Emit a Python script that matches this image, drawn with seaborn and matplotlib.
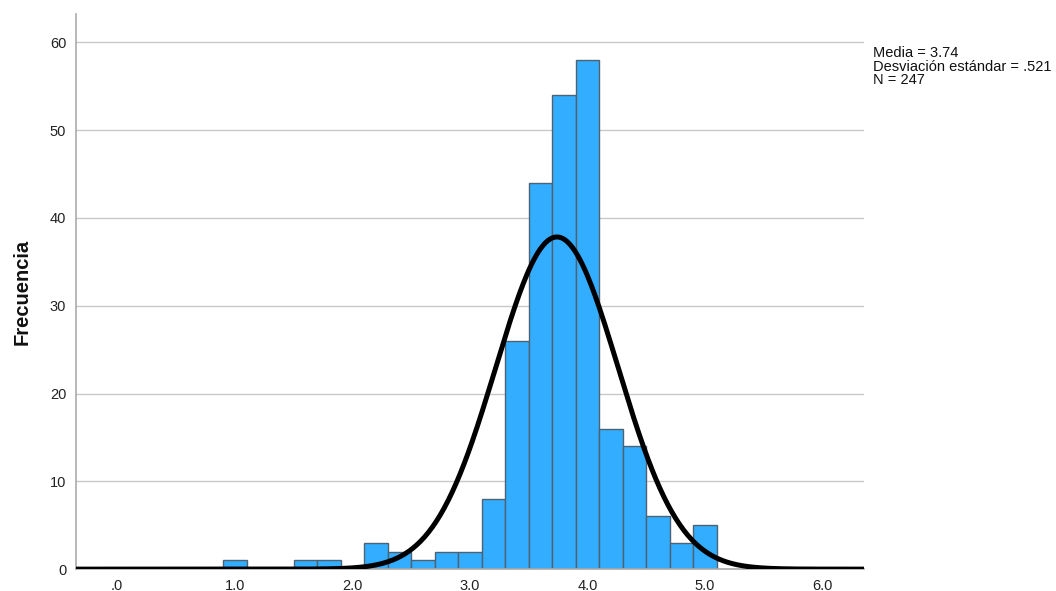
import numpy as np
import pandas as pd
import matplotlib
matplotlib.use("Agg")
import matplotlib.pyplot as plt
import seaborn as sns

# histogram data (bin centers, width 0.2)
bin_centers = [1.0, 1.2, 1.4, 1.6, 1.8, 2.0, 2.2, 2.4, 2.6, 2.8, 3.0,
               3.2, 3.4, 3.6, 3.8, 4.0, 4.2, 4.4, 4.6, 4.8, 5.0]
counts = [1, 0, 0, 1, 1, 0, 3, 2, 1, 2, 2,
          8, 26, 44, 54, 58, 16, 14, 6, 3, 5]
bin_width = 0.2
mean_val = 3.74
std_val = 0.521
n_total = 247
x_ticks = [0, 1, 2, 3, 4, 5, 6]
x_tick_labels = [".0", "1.0", "2.0", "3.0", "4.0", "5.0", "6.0"]
y_ticks = [0, 10, 20, 30, 40, 50, 60]

sns.set_theme(style="white")
plt.rcParams['font.family'] = ['Liberation Sans', 'DejaVu Sans']

fig = plt.figure(figsize=(10.56, 5.91), dpi=100)
ax = fig.add_axes([0.072, 0.037, 0.746, 0.939])

df = pd.DataFrame({"valor": bin_centers, "n": counts})
lo = bin_centers[0] - bin_width / 2
hi = bin_centers[-1] + bin_width / 2
sns.histplot(data=df, x="valor", weights="n", binwidth=bin_width,
             binrange=(lo, hi), ax=ax,
             color="#33adff", edgecolor="#4d6272", linewidth=1.0, alpha=1,
             zorder=2)

# normal curve scaled to counts
xlim = (-0.35, 6.35)
xs = np.linspace(xlim[0], xlim[1], 600)
ys = n_total * bin_width * np.exp(-0.5 * ((xs - mean_val) / std_val) ** 2) / (std_val * np.sqrt(2 * np.pi))
sns.lineplot(x=xs, y=ys, ax=ax, color="black", linewidth=3.6, zorder=3)

ax.set_xlim(*xlim)
ax.set_ylim(0, 63.2)
ax.set_xticks(x_ticks)
ax.set_xticklabels(x_tick_labels)
ax.set_yticks(y_ticks)
ax.tick_params(axis="both", length=0, labelsize=10.5, colors="#222222", pad=7)
ax.yaxis.grid(True, color="#c8c8c8", linewidth=1.0, zorder=0)
ax.set_axisbelow(True)
ax.set_xlabel("")
ax.set_ylabel("Frecuencia", fontsize=14.5, fontweight="bold", labelpad=13,
              color="#111111")

for side in ["top", "right"]:
    ax.spines[side].set_visible(False)
for side in ["left", "bottom"]:
    ax.spines[side].set_color("#aaaaaa")
    ax.spines[side].set_linewidth(1.2)

fig.text(0.827, 0.922,
         f"Media = {mean_val:.2f}\nDesviación estándar = .521\nN = {n_total}",
         fontsize=10.5, va="top", ha="left", linespacing=0.95, color="#111111")

fig.savefig("out.png", dpi=100)
